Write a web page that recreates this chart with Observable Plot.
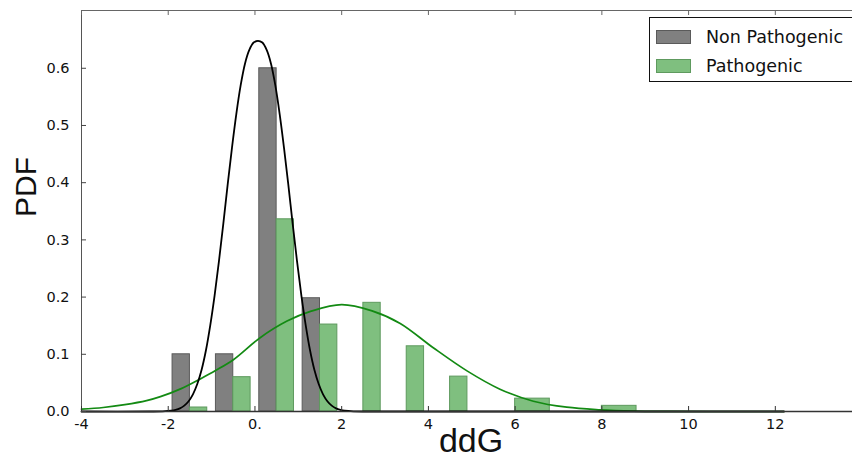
<!DOCTYPE html>
<html>
<head>
<meta charset="utf-8">
<script src="https://cdn.jsdelivr.net/npm/d3@7"></script>
<script src="https://cdn.jsdelivr.net/npm/@observablehq/plot@0.6"></script>
<style>
  html, body { margin: 0; padding: 0; background: #fff; }
  #wrap { position: relative; width: 852px; height: 459px; overflow: hidden; }
  #legend {
    position: absolute; left: 649px; top: 17px; width: 205px; height: 65px;
    border: 1.5px solid #111; background: #fff; box-sizing: border-box;
    font-family: "DejaVu Sans", sans-serif; font-size: 17.5px; color: #111;
  }
  .row { position: absolute; left: 6px; display: flex; align-items: center; }
  .sw { width: 35px; height: 14px; box-sizing: border-box; margin-right: 15px; }
</style>
</head>
<body>
<div id="wrap"></div>
<script>
// ---- data ----
const binStart = [-2, -1, 0, 1, 2, 3, 4, 5, 7];
const binEnd   = [-1,  0, 1, 2, 3, 4, 5, 7, 9];
const nonPathogenic = [0.1, 0.1, 0.6, 0.198, 0, 0, 0, 0, 0];
const pathogenic    = [0.007, 0.06, 0.336, 0.152, 0.19, 0.114, 0.061, 0.0225, 0.0099];

// fitted density curves
const nonPathCurveX = [-4, -2.43, -2.13, -1.93, -1.83, -1.73, -1.63, -1.53, -1.43, -1.33, -1.23, -1.13, -1.03, -0.93, -0.83, -0.73, -0.63, -0.53, -0.43, -0.33, -0.23, -0.13, -0.03, 0.07,
                       0.17, 0.27, 0.37, 0.47, 0.57, 0.67, 0.77, 0.87, 0.97, 1.07, 1.17, 1.27, 1.37, 1.47, 1.57, 1.67, 1.77, 1.87, 1.97, 2.07, 2.27, 2.57, 4, 12.2];
const nonPathCurveY = [0, 0, 0.0003, 0.0014, 0.0029, 0.0055, 0.0103, 0.018, 0.030, 0.048, 0.073, 0.107, 0.151, 0.203, 0.263, 0.328, 0.396, 0.461, 0.520, 0.570, 0.608, 0.632, 0.645, 0.648,
                       0.645, 0.632, 0.608, 0.570, 0.520, 0.461, 0.396, 0.328, 0.263, 0.203, 0.151, 0.107, 0.073, 0.048, 0.030, 0.018, 0.0103, 0.0055, 0.0029, 0.0014, 0.0003, 0, 0, 0];
const pathCurveX = [-4, -3.5, -3, -2.5, -2.18, -1.7, -1.26, -0.9, -0.49, 0.12, 0.74, 1.28, 2.0, 2.7, 3.35, 4.12, 4.89, 5.65, 6.42, 7.19, 7.96, 8.73, 9.5, 10.5, 12.2];
const pathCurveY = [0.004, 0.007, 0.012, 0.019, 0.026, 0.040, 0.057, 0.072, 0.091, 0.129, 0.158, 0.175, 0.187, 0.176, 0.154, 0.111, 0.071, 0.039, 0.018, 0.0075, 0.003, 0.0008, 0.0002, 0, 0];

const xTicks = [-4, -2, 0, 2, 4, 6, 8, 10, 12];
const xTickLabels = ["-4", "-2", "0.", "2", "4", "6", "8", "10", "12"];
const yTicks = [0, 0.1, 0.2, 0.3, 0.4, 0.5, 0.6];
const yTickLabels = ["0.0", "0.1", "0.2", "0.3", "0.4", "0.5", "0.6"];
const seriesNames = ["Non Pathogenic", "Pathogenic"];
const xDomain = [-4, 13.78];
const yDomain = [0, 0.701];

// ---- build tables ----
const bars = [];
binStart.forEach((s, i) => {
  const w = binEnd[i] - s;
  if (nonPathogenic[i] > 0) bars.push({series: seriesNames[0], x1: s + 0.1 * w, x2: s + 0.5 * w, y: nonPathogenic[i]});
  if (pathogenic[i] > 0) bars.push({series: seriesNames[1], x1: s + 0.5 * w, x2: s + 0.9 * w, y: pathogenic[i]});
});
const nonPathCurve = nonPathCurveX.map((x, i) => ({x, y: nonPathCurveY[i]}));
const pathCurve = pathCurveX.map((x, i) => ({x, y: pathCurveY[i]}));

const W = 852, H = 459, mt = 10, mb = 48, ml = 81, mr = 0;
const innerH = H - mt - mb;
const grayFill = "#808080", greenFill = "#7fbf7f";

const chart = Plot.plot({
  width: W, height: H,
  marginTop: mt, marginBottom: mb, marginLeft: ml, marginRight: mr,
  style: {fontFamily: "DejaVu Sans, sans-serif", fontSize: "14px", color: "#111", background: "#fff", overflow: "visible"},
  x: {domain: xDomain},
  y: {domain: yDomain},
  marks: [
    Plot.rectY(bars, {
      x1: "x1", x2: "x2", y: "y",
      fill: d => d.series === seriesNames[0] ? grayFill : greenFill,
      stroke: d => d.series === seriesNames[0] ? "#5a5a5a" : "#5e9a5e",
      strokeWidth: 1
    }),
    Plot.line(pathCurve, {x: "x", y: "y", stroke: "#138a13", strokeWidth: 1.7, curve: "catmull-rom"}),
    Plot.line(nonPathCurve, {x: "x", y: "y", stroke: "#000", strokeWidth: 1.8, curve: "catmull-rom"}),
    // spines
    Plot.ruleY([yDomain[1]], {stroke: "#666", strokeWidth: 1}),
    Plot.ruleX([xDomain[0]], {stroke: "#555", strokeWidth: 1}),
    Plot.ruleY([0], {stroke: "#333", strokeWidth: 1.3}),
    // inward ticks
    Plot.tickX(xTicks, {x: d => d, insetTop: innerH - 5, stroke: "#333"}),
    Plot.tickX(xTicks, {x: d => d, insetBottom: innerH - 5, stroke: "#666"}),
    Plot.tickY(yTicks, {y: d => d, insetRight: (W - ml - mr) - 5, stroke: "#444"}),
    Plot.axisX(xTicks, {tickSize: 0, tickPadding: 7, tickFormat: (d, i) => xTickLabels[i], label: null, fontSize: 14.5}),
    Plot.axisY(yTicks, {tickSize: 0, tickPadding: 12, tickFormat: (d, i) => yTickLabels[i], label: null, fontSize: 14.5}),
    Plot.text(["ddG"], {frameAnchor: "bottom", dx: 4, dy: 40, lineAnchor: "bottom", fontSize: 34, fontFamily: "Liberation Sans, sans-serif", fill: "#111"}),
    Plot.text(["PDF"], {frameAnchor: "left", dx: -55, dy: 6, rotate: -90, fontSize: 30, fontFamily: "Liberation Sans, sans-serif", fill: "#111"})
  ]
});

const wrap = document.getElementById("wrap");
wrap.appendChild(chart);

const legend = document.createElement("div");
legend.id = "legend";
legend.innerHTML = `
  <div class="row" style="top:9px"><div class="sw" style="background:${grayFill};border:1px solid #5a5a5a"></div><span>${seriesNames[0]}</span></div>
  <div class="row" style="top:38px"><div class="sw" style="background:${greenFill};border:1px solid #5e9a5e"></div><span>${seriesNames[1]}</span></div>`;
wrap.appendChild(legend);
</script>
</body>
</html>
